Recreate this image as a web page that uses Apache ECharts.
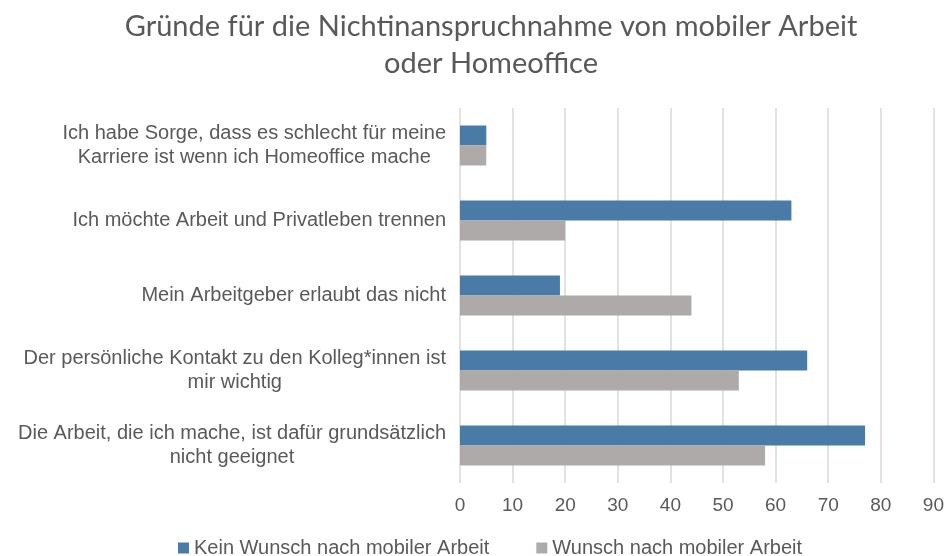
<!DOCTYPE html>
<html>
<head>
<meta charset="utf-8">
<script src="https://cdn.jsdelivr.net/npm/echarts@6/dist/echarts.min.js"></script>
<style>
  html, body { margin: 0; padding: 0; background: #fff; }
  #chart { width: 947px; height: 556px; }
</style>
</head>
<body>
<div id="chart"></div>
<script>
  // Daten
  var categories = [
    "Ich habe Sorge, dass es schlecht für meine\nKarriere ist wenn ich Homeoffice mache",
    "Ich möchte Arbeit und Privatleben trennen",
    "Mein Arbeitgeber erlaubt das nicht",
    "Der persönliche Kontakt zu den Kolleg*innen ist\nmir wichtig",
    "Die Arbeit, die ich mache, ist dafür grundsätzlich\nnicht geeignet"
  ];
  var keinWunsch = [5, 63, 19, 66, 77];
  var wunsch = [5, 20, 44, 53, 58];
  var seriesNames = ["Kein Wunsch nach mobiler Arbeit", "Wunsch nach mobiler Arbeit"];

  var myChart = echarts.init(document.getElementById("chart"));

  var option = {
    color: ["#4a7aa6", "#aeaaaa"],
    title: {
      text: "Gründe für die Nichtinanspruchnahme von mobiler Arbeit\noder Homeoffice",
      left: 486,
      top: 3,
      textAlign: "center",
      textStyle: {
        fontFamily: "Lato",
        fontSize: 29,
        fontWeight: "normal",
        color: "#595959",
        lineHeight: 37
      }
    },
    legend: {
      top: 533,
      left: 173,
      itemWidth: 11,
      itemHeight: 11,
      itemGap: 47,
      icon: "rect",
      textStyle: {
        fontFamily: "Liberation Sans",
        fontSize: 20,
        color: "#595959"
      },
      data: seriesNames
    },
    grid: {
      left: 460,
      right: 11,
      top: 108,
      bottom: 73,
      containLabel: false
    },
    xAxis: {
      type: "value",
      min: 0,
      max: 90,
      interval: 10,
      axisLine: { show: false },
      axisTick: { show: false },
      axisLabel: {
        fontFamily: "Liberation Sans",
        fontSize: 19,
        color: "#595959",
        margin: 13
      },
      splitLine: { lineStyle: { color: "#d9d9d9", width: 1.5 } }
    },
    yAxis: {
      type: "category",
      inverse: true,
      data: categories,
      axisLine: { show: false },
      axisTick: { show: false },
      axisLabel: {
        align: "right",
        margin: 14,
        formatter: function (v) {
          return v.split("\n").map(function (s) { return "{a|" + s + "}"; }).join("\n");
        },
        rich: {
          a: {
            align: "center",
            fontFamily: "Liberation Sans",
            fontSize: 20,
            color: "#595959",
            lineHeight: 24
          }
        }
      }
    },
    series: [
      {
        name: seriesNames[0],
        type: "bar",
        data: keinWunsch,
        barWidth: 20,
        barGap: "0%"
      },
      {
        name: seriesNames[1],
        type: "bar",
        data: wunsch,
        barWidth: 20,
        barGap: "0%"
      }
    ]
  };

  myChart.setOption(option);
</script>
</body>
</html>
